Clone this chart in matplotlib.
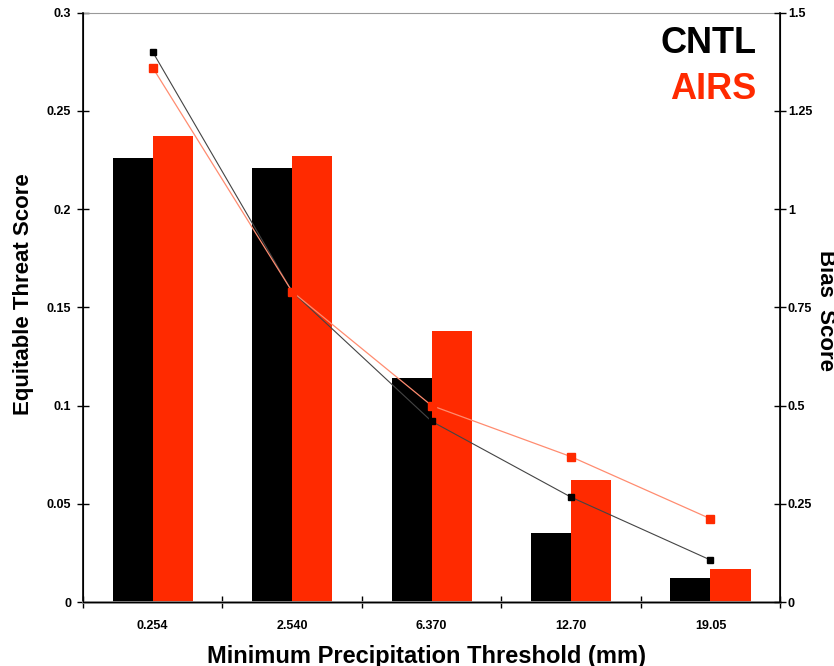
import matplotlib.pyplot as plt
import numpy as np

plt.rcParams['font.family'] = ['Liberation Sans', 'DejaVu Sans']
plt.rcParams['font.weight'] = 'bold'

# thresholds (mm)
thresholds = ['0.254', '2.540', '6.370', '12.70', '19.05']

# equitable threat score (bars)
ets_cntl = [0.226, 0.221, 0.114, 0.035, 0.012]
ets_airs = [0.237, 0.227, 0.138, 0.062, 0.017]

# bias score (lines, right axis)
bias_cntl = [1.40, 0.79, 0.46, 0.267, 0.107]
bias_airs = [1.36, 0.79, 0.50, 0.37, 0.212]

red = '#ff2a00'
x = np.arange(len(thresholds))
w = 0.287

fig = plt.figure(figsize=(8.34, 6.66), dpi=100)
ax = fig.add_axes([0.0995, 0.096, 0.836, 0.885])

ax.bar(x - w / 2, ets_cntl, width=w, color='black', zorder=2)
ax.bar(x + w / 2, ets_airs, width=w, color=red, zorder=2)

ax.set_xlim(-0.5, len(thresholds) - 0.5)
ax.set_ylim(0, 0.3)
ax.set_yticks([0, 0.05, 0.1, 0.15, 0.2, 0.25, 0.3])
ax.set_yticklabels(['0', '0.05', '0.1', '0.15', '0.2', '0.25', '0.3'])
ax.set_xticks(x)
ax.set_xticklabels(thresholds)
ax.set_xticks(np.arange(len(thresholds) + 1) - 0.5, minor=True)
ax.tick_params(axis='x', which='major', length=0, pad=13, labelsize=9)
ax.tick_params(axis='x', which='minor', direction='inout', length=9, width=1)
ax.tick_params(axis='y', direction='inout', length=9, width=1, labelsize=9, pad=4)

ax.spines['top'].set_color('#999999')
ax.spines['bottom'].set_color('#888888')
ax.spines['bottom'].set_linewidth(2)
ax.spines['left'].set_linewidth(1.2)

ax2 = ax.twinx()
ax2.plot(x, bias_cntl, color='#444444', lw=0.8, marker='s', markersize=4.5,
         markerfacecolor='black', markeredgecolor='black', zorder=3)
ax2.plot(x, bias_airs, color='#ff8c70', lw=0.9, marker='s', markersize=6,
         markerfacecolor=red, markeredgecolor=red, zorder=3)
ax2.set_ylim(0, 1.5)
ax2.set_yticks([0, 0.25, 0.5, 0.75, 1, 1.25, 1.5])
ax2.set_yticklabels(['0', '0.25', '0.5', '0.75', '1', '1.25', '1.5'])
ax2.tick_params(axis='y', direction='inout', length=9, width=1, labelsize=9, pad=1)
ax2.spines['top'].set_visible(False)
ax2.spines['right'].set_linewidth(1.2)

# axis titles placed directly in figure coordinates
fig.text(426.5 / 834, 1 - 656 / 666, 'Minimum Precipitation Threshold (mm)',
         ha='center', va='center', fontsize=17, fontweight='bold')
fig.text(24 / 834, 1 - 294 / 666, 'Equitable Threat Score', rotation=90,
         ha='center', va='center', fontsize=16, fontweight='bold')
fig.text(825 / 834, 1 - 310 / 666, 'Bias  Score', rotation=-90,
         ha='center', va='center', fontsize=16, fontweight='bold')

ax.text(0.966, 0.948, 'CNTL', transform=ax.transAxes, ha='right', va='center',
        fontsize=26, fontweight='bold', color='black')
ax.text(0.966, 0.87, 'AIRS', transform=ax.transAxes, ha='right', va='center',
        fontsize=26, fontweight='bold', color=red)

fig.savefig('out.png', dpi=100)
